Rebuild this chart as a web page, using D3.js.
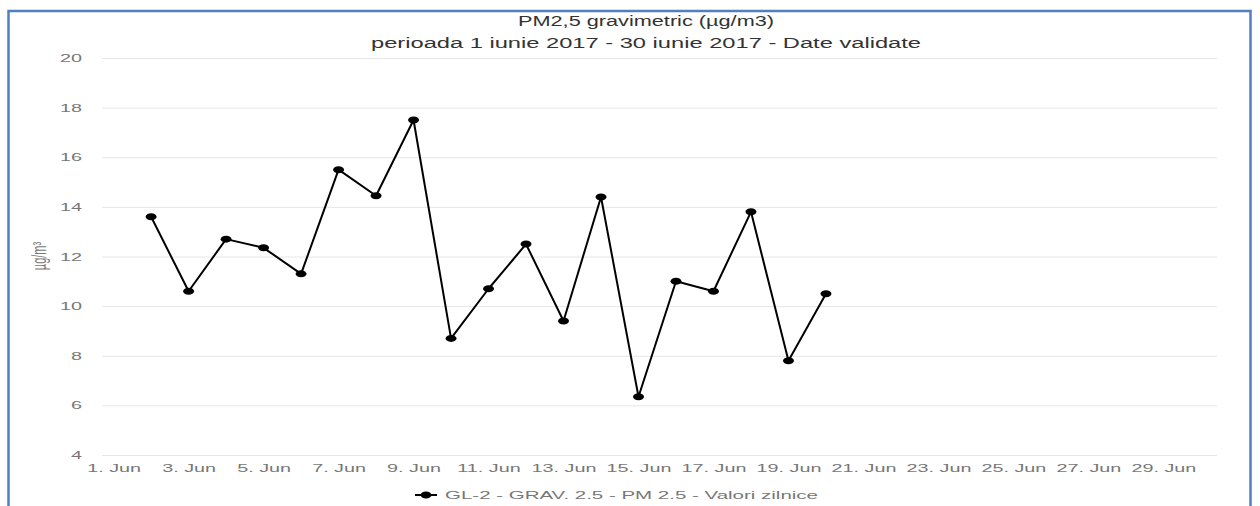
<!DOCTYPE html>
<html>
<head>
<meta charset="utf-8">
<script src="https://cdn.jsdelivr.net/npm/d3@7"></script>
<style>
  body { margin: 0; background: #fff; }
  svg { display: block; font-family: "Liberation Sans", Arial, sans-serif; }
  .axis .domain { display: none; }
  .yAxis line { stroke: #e6e6e6; }
  .axis text { fill: #777; font-size: 11px; }
</style>
</head>
<body>
<div id="chart"></div>
<script>
// daily values, June 2017
var days = [2, 3, 4, 5, 6, 7, 8, 9, 10, 11, 12, 13, 14, 15, 16, 17, 18, 19, 20];
var values = [13.6, 10.6, 12.7, 12.35, 11.3, 15.5, 14.45, 17.5, 8.7, 10.7, 12.5, 9.4, 14.4, 6.35, 11.0, 10.6, 13.8, 7.8, 10.5];
var xTicks = [1, 3, 5, 7, 9, 11, 13, 15, 17, 19, 21, 23, 25, 27, 29];
var yTicks = [4, 6, 8, 10, 12, 14, 16, 18, 20];

var titleLines = ["PM2,5 gravimetric (\u00b5g/m3)", "perioada 1 iunie 2017 - 30 iunie 2017 - Date validate"];
var titleWidths = [256, 550];
var seriesName = "GL-2 - GRAV. 2.5 - PM 2.5 - Valori zilnice";
var yTitle = "\u00b5g/m\u00b3";

var width = 1260, height = 506;
var stretch = 1.8; // the picture is stretched sideways, text included

var svg = d3.select("#chart")
  .append("svg")
  .attr("width", width)
  .attr("height", height);

// blue frame (bottom edge is cut off)
svg.append("rect")
  .attr("x", 8.5).attr("y", 11)
  .attr("width", 1242).attr("height", 520)
  .attr("fill", "none")
  .attr("stroke", "#4f81bd")
  .attr("stroke-width", 2.5);

var plot = {left: 102, right: 1217, top: 58, bottom: 455};

var x = d3.scaleLinear()
  .domain([0.69, 30.43])
  .range([plot.left, plot.right]);

var y = d3.scaleLinear()
  .domain([4, 20])
  .range([plot.bottom, plot.top]);

// y axis + gridlines
var yAxis = svg.append("g")
  .attr("class", "yAxis axis")
  .attr("transform", "translate(" + plot.left + ",0)")
  .call(d3.axisLeft(y)
    .tickValues(yTicks)
    .tickSizeInner(-(plot.right - plot.left))
    .tickSizeOuter(0)
    .tickPadding(0));

yAxis.selectAll("text")
  .attr("x", -20 / stretch)
  .attr("transform", "scale(" + stretch + ",1)");

// x axis labels
var xAxis = svg.append("g")
  .attr("class", "xAxis axis")
  .attr("transform", "translate(0," + plot.bottom + ")")
  .call(d3.axisBottom(x)
    .tickValues(xTicks)
    .tickSize(0)
    .tickPadding(9)
    .tickFormat(d => d + ". Jun"));

xAxis.selectAll("text")
  .attr("transform", "scale(" + stretch + ",1)");

// y title
svg.append("text")
  .attr("transform", "translate(39,256) scale(" + stretch + ",1) rotate(-90)")
  .attr("dy", "0.35em")
  .style("text-anchor", "middle")
  .style("font-size", "11px")
  .style("fill", "#777")
  .text(yTitle);

// title
svg.selectAll(".title")
  .data(titleLines)
  .enter()
  .append("text")
  .attr("class", "title")
  .attr("x", 646)
  .attr("y", (d, i) => 26 + i * 22)
  .attr("textLength", (d, i) => titleWidths[i])
  .attr("lengthAdjust", "spacingAndGlyphs")
  .style("text-anchor", "middle")
  .style("font-size", "14px")
  .style("fill", "#333")
  .text(d => d);

// series line
var pts = days.map((d, i) => ({day: d, value: values[i]}));

svg.append("path")
  .datum(pts)
  .attr("fill", "none")
  .attr("stroke", "#000")
  .attr("stroke-width", 2)
  .attr("stroke-linejoin", "round")
  .attr("d", d3.line().x(d => x(d.day)).y(d => y(d.value)));

svg.selectAll(".marker")
  .data(pts)
  .enter()
  .append("ellipse")
  .attr("class", "marker")
  .attr("cx", d => x(d.day))
  .attr("cy", d => y(d.value))
  .attr("rx", 5.5)
  .attr("ry", 3.5)
  .attr("fill", "#000");

// legend
var legend = svg.append("g").attr("transform", "translate(415,495)");
legend.append("line")
  .attr("x1", 0).attr("x2", 22)
  .attr("stroke", "#000").attr("stroke-width", 2);
legend.append("ellipse")
  .attr("cx", 11).attr("rx", 5.5).attr("ry", 3.5)
  .attr("fill", "#000");
legend.append("text")
  .attr("x", 30)
  .attr("dy", "0.35em")
  .attr("textLength", 373)
  .attr("lengthAdjust", "spacingAndGlyphs")
  .style("font-size", "11px")
  .style("fill", "#777")
  .text(seriesName);
</script>
</body>
</html>
